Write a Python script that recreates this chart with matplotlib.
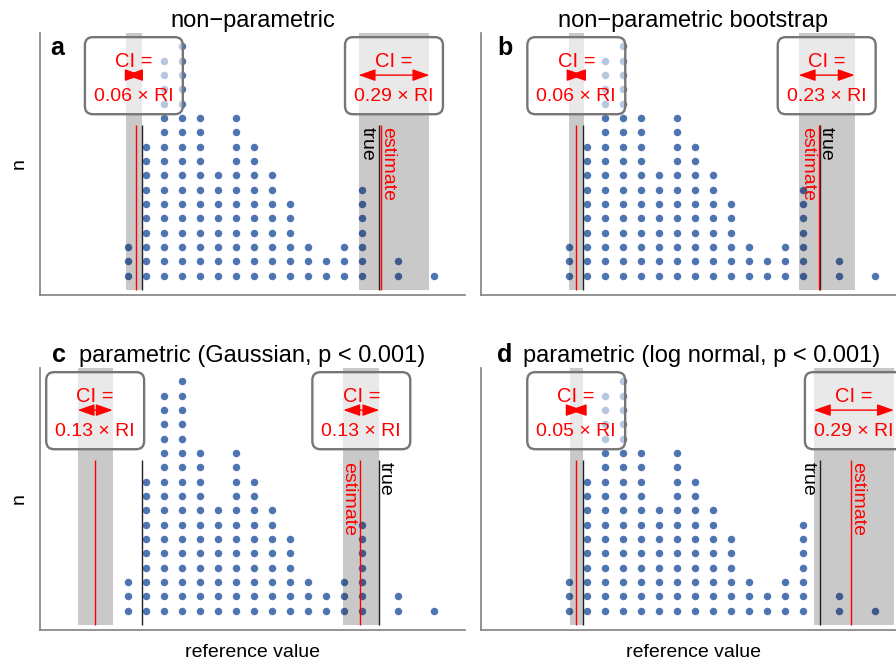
import matplotlib as mpl
import matplotlib.pyplot as plt
from matplotlib.patches import FancyBboxPatch
import numpy as np

mpl.rcParams['font.family'] = ['Liberation Sans', 'DejaVu Sans']

# the same sample of 120 reference values in every panel, one dot column per bin
bins = np.arange(18)
counts = [3, 10, 16, 17, 12, 8, 12, 10, 8, 6, 3, 2, 3, 7, 0, 2, 0, 1]

titles = ['non\u2212parametric',
          'non\u2212parametric bootstrap',
          'parametric (Gaussian, p < 0.001)',
          'parametric (log normal, p < 0.001)']
letters = ['a', 'b', 'c', 'd']

# true reference limits (bin units)
true_lower = 0.76
true_upper = 13.94

# estimated limits for each method
est_lower = [0.44, 0.41, -1.82, 0.37]
est_upper = [14.06, 13.90, 12.90, 15.68]

# confidence intervals of the two limits
ci_lower = [(-0.11, 0.76), (0.00, 0.81), (-2.80, -0.85), (0.04, 0.76)]
ci_upper = [(12.81, 16.74), (12.76, 15.87), (11.96, 13.96), (13.60, 18.05)]

# CI width relative to the estimated reference interval
ci_lower_txt = ['0.06', '0.06', '0.13', '0.05']
ci_upper_txt = ['0.29', '0.23', '0.13', '0.29']

dot_color = '#4f74b2'
XLIM = (-4.889, 18.72)
YLIM = (-1.35, 16.94)
LINE_TOP = 10.55


def side_label(ax, x, text, color, side):
    # rotated label next to a limit line, reading top to bottom
    dx = -11.8 if side == 'left' else 1.1
    ax.annotate(text, xy=(x, 10.35), xytext=(dx, 0), textcoords='offset points',
                rotation=-90, rotation_mode='anchor', ha='left', va='baseline',
                color=color, fontsize=14, zorder=5)


def ci_box(ax, lo, hi, txt):
    cx = (lo + hi) / 2
    box = FancyBboxPatch((cx - 2.72, 11.27), 5.44, 5.38,
                         boxstyle='round,pad=0,rounding_size=0.45',
                         mutation_aspect=1.256, fc=(1, 1, 1, 0.6),
                         ec='#767676', lw=1.7, zorder=6, clip_on=False)
    ax.add_patch(box)
    ax.text(cx, 14.58, 'CI =', ha='center', va='baseline', color='red',
            fontsize=14.5, zorder=7)
    ax.text(cx, 12.21, txt + ' \u00d7 RI', ha='center', va='baseline',
            color='red', fontsize=14, zorder=7)
    ax.annotate('', xy=(hi, 14.0), xytext=(lo, 14.0), zorder=7,
                arrowprops=dict(arrowstyle='<|-|>,head_length=0.85,head_width=0.3',
                                color='red', lw=1, mutation_scale=12,
                                shrinkA=0, shrinkB=0))


def panel(ax, i):
    xs = np.repeat(bins, counts)
    ys = np.concatenate([np.arange(c) for c in counts])
    ax.scatter(xs, ys, s=29, color=dot_color, linewidths=0, zorder=2)

    for lo, hi in (ci_lower[i], ci_upper[i]):
        ax.fill_betweenx([-1, YLIM[1]], lo, hi, color='black', alpha=0.21,
                         lw=0, zorder=3)

    for t, e in ((true_lower, est_lower[i]), (true_upper, est_upper[i])):
        ax.vlines(t, -1, LINE_TOP, color='#222222', lw=1.0, zorder=4)
        ax.vlines(e, -1, LINE_TOP, color='red', lw=1.0, zorder=4)

    # labels at the upper limit
    if true_upper < est_upper[i]:
        side_label(ax, true_upper, 'true', 'black', 'left')
        side_label(ax, est_upper[i], 'estimate', 'red', 'right')
    else:
        side_label(ax, est_upper[i], 'estimate', 'red', 'left')
        side_label(ax, true_upper, 'true', 'black', 'right')

    ci_box(ax, ci_lower[i][0], ci_lower[i][1], ci_lower_txt[i])
    ci_box(ax, ci_upper[i][0], ci_upper[i][1], ci_upper_txt[i])

    ax.set_xlim(XLIM)
    ax.set_ylim(YLIM)
    ax.set_xticks([])
    ax.set_yticks([])
    for s in ('top', 'right'):
        ax.spines[s].set_visible(False)
    for s in ('left', 'bottom'):
        ax.spines[s].set_color('#808080')
        ax.spines[s].set_linewidth(1.2)


fig = plt.figure(figsize=(8.96, 6.62), dpi=100)
W, H = 896, 662
lefts = [40, 481, 40, 481]
bottoms = [295, 295, 630, 630]
title_shift = [0, 0, 0, 8]
axes = []
for i in range(4):
    ax = fig.add_axes([lefts[i] / W, (H - bottoms[i]) / H, 425 / W, 262 / H])
    panel(ax, i)
    ax.set_title(titles[i], fontsize=17, pad=4.5, x=0.5 + title_shift[i] / 425)
    axes.append(ax)

for ax in (axes[0], axes[2]):
    ax.set_ylabel('n', fontsize=14)
    ax.yaxis.set_label_coords(-0.03, 0.5)
for ax in (axes[2], axes[3]):
    ax.set_xlabel('reference value', fontsize=14)
    ax.xaxis.set_label_coords(0.5, -0.055)

# panel letters: a, b inside the plot, c, d on the title line
letter_x = [50, 497, 52, 497]
letter_y = [55, 55, 362, 362]
for i in range(4):
    fig.text(letter_x[i] / W, (H - letter_y[i]) / H, letters[i], fontsize=18,
             fontweight='bold', ha='left', va='baseline')

fig.savefig('out.png', dpi=100)
